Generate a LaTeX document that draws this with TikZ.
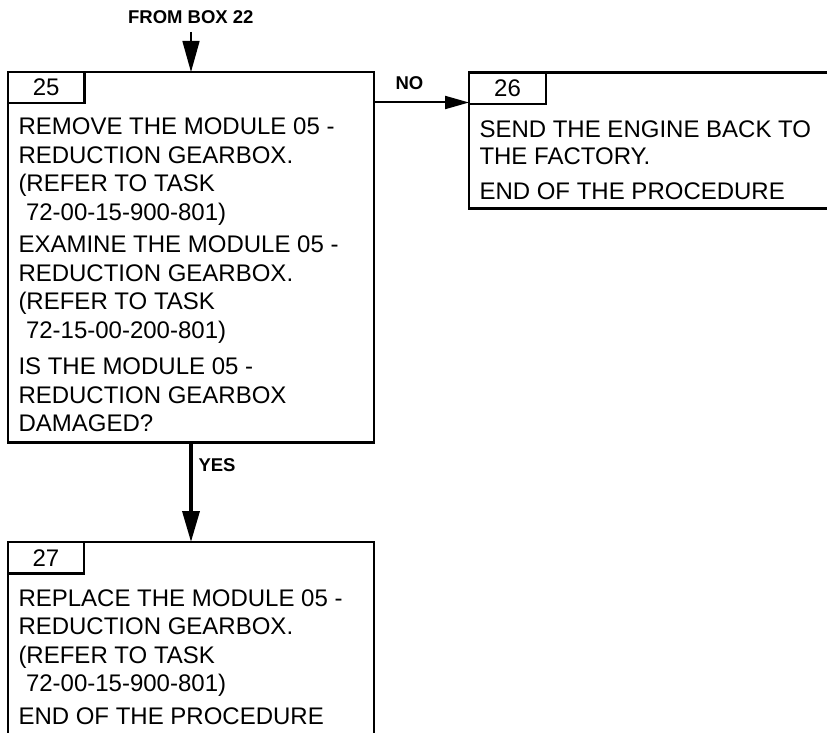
\documentclass[tikz,border=0pt]{standalone}
\usepackage{fontspec}
\setmainfont{Liberation Sans}
\usetikzlibrary{arrows.meta}
\begin{document}
\begin{tikzpicture}[x=1pt,y=-1pt,
  box/.style={draw, line width=2.4pt, rectangle, inner sep=0pt, outer sep=0pt, anchor=north west},
  tabbox/.style={box, font=\fontsize{24}{28}\selectfont},
  body/.style={anchor=north west, inner sep=0pt, align=left, font=\fontsize{24}{28.5}\selectfont},
  lab/.style={inner sep=0pt, font=\fontsize{18.5}{21}\selectfont\bfseries},
  vtip/.style={-{Triangle[length=31pt,width=17pt]}},
  htip/.style={-{Triangle[length=24pt,width=13pt]}},
]
\fill[white] (0,0) rectangle (827,733);
\useasboundingbox (0,0) rectangle (827,733);

% boxes
\node[box, minimum width=366pt, minimum height=370.5pt] (b25) at (8,72) {};
\node[box, minimum width=420pt, minimum height=135.8pt] (b26) at (469,72.5) {};
\node[box, minimum width=366pt, minimum height=230pt] (b27) at (8,542) {};

% number tabs
\node[tabbox, minimum width=76.5pt, minimum height=31pt] (t25) at (8,72) {25};
\node[tabbox, minimum width=77pt, minimum height=31.5pt] (t26) at (469,72.5) {26};
\node[tabbox, minimum width=76pt, minimum height=31.3pt] (t27) at (8,542) {27};

% texts
\node[body] (x25) at (18.3,117.8) {REMOVE THE MODULE 05 -\\
REDUCTION GEARBOX.\\
(REFER TO TASK\\
\hspace*{7.5pt}72-00-15-900-801)\\[4pt]
EXAMINE THE MODULE 05 -\\
REDUCTION GEARBOX.\\
(REFER TO TASK\\
\hspace*{7.5pt}72-15-00-200-801)\\[8pt]
IS THE MODULE 05 -\\
REDUCTION GEARBOX\\
DAMAGED?};

\node[body, font=\fontsize{24}{27.7}\selectfont] (x26) at (479.3,120.1) {SEND THE ENGINE BACK TO\\
THE FACTORY.\\[6.6pt]
END OF THE PROCEDURE};

\node[body, font=\fontsize{24}{28.3}\selectfont] (x27) at (18.3,589.5) {REPLACE THE MODULE 05 -\\
REDUCTION GEARBOX.\\
(REFER TO TASK\\
\hspace*{7.5pt}72-00-15-900-801)\\[5pt]
END OF THE PROCEDURE};

% labels
\node[lab, anchor=base] (lf22) at (190.8,23.3) {FROM BOX 22};
\node[lab, anchor=base] (lno) at (409.5,90) {NO};
\node[lab, anchor=base west] (lyes) at (198.3,471.7) {YES};

% connectors
\coordinate (f22) at (191,32);
\coordinate (noy) at (0,102.5);
\draw[line width=1.5pt, vtip] (f22) -- (b25.north);
\draw[line width=2pt, htip] (b25.east |- noy) -- (b26.west |- noy);
\draw[line width=3.5pt, vtip] (b25.south) -- (b27.north);
\end{tikzpicture}
\end{document}
